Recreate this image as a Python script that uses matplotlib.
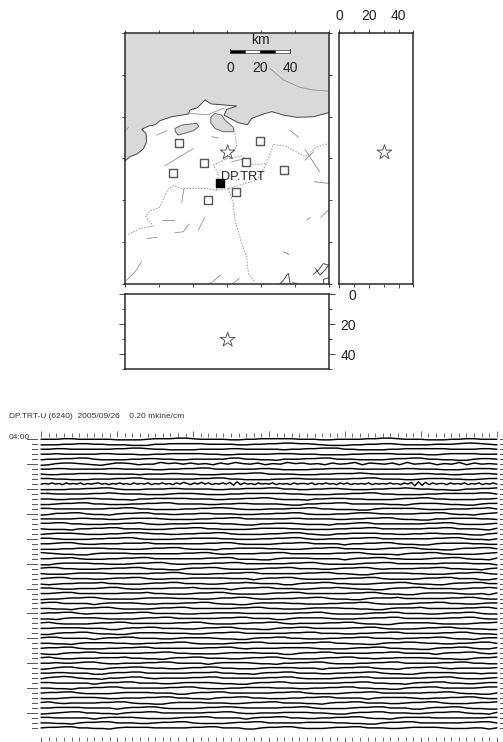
import numpy as np
import matplotlib
matplotlib.use("Agg")
import matplotlib.pyplot as plt
from matplotlib.ticker import MultipleLocator

plt.rcParams['font.family'] = ['Liberation Sans', 'DejaVu Sans']

# map data, km from the upper left corner of the map
coast_x = [0, 3.3, 7.8, 12.2, 14.4, 14, 11.1, 15.6, 20, 23.3, 31.1, 42.2, 43.3, 48.2, 53.3, 57.8, 66.7, 74.4,
           67.8, 66, 75.6, 81.6, 84.4, 92.2, 97.8, 105.6, 114.4, 125.6, 135.6]
coast_y = [85.3, 82.4, 80.7, 77.3, 72.4, 66.9, 64.2, 62, 61.1, 58.4, 55.8, 54, 51.3, 49.8, 44.7, 47.3, 48, 48.7,
           50.9, 54.7, 59.8, 61.1, 56.9, 54, 52.4, 54.7, 56.2, 55.8, 53.1]
lake1_x = [33.3, 37.8, 47.8, 49.1, 45.6, 35.6, 33.6]
lake1_y = [63.6, 61.3, 60.2, 62.4, 65.1, 68, 65.8]
lake2_x = [57.3, 60, 64.4, 66.7, 72.2, 72.7, 65.6, 60, 57.1]
lake2_y = [55.8, 53.6, 54.7, 58, 62.9, 65.8, 65.8, 63.6, 59.8]

faults = [
    ([96.7, 105.6, 116.7, 125.6, 135.6], [23.6, 31.3, 36.2, 38, 38.7]),
    ([26.7, 45.6], [88.4, 76.9]),
    ([21.1, 27.8], [68, 65.1]),
    ([0, 2.2], [65.8, 62.9]),
    ([57.8, 62.2], [69.1, 70]),
    ([71.1, 80], [85.8, 83.6]),
    ([120, 129.6], [77.6, 92.4]),
    ([120, 125.6], [84.7, 79.1]),
    ([126, 135.6], [99.1, 100.2]),
    ([110, 115.6], [64.7, 69.6]),
    ([121.1, 123.3], [124.7, 122.9]),
    ([130.4, 135.6], [122.9, 118]),
    ([24.4, 32.7], [124.9, 124.9]),
    ([33.3, 38.9, 42.7], [133.1, 132.4, 127.3]),
    ([48.9, 53.1], [131.3, 122.9]),
    ([14.9, 21.1], [136.9, 136.2]),
    ([37.8, 39.3], [113.1, 103.6]),
    ([105.6, 109.3], [145.8, 147.6]),
    ([1.1, 6.7, 11.1], [164.7, 159.1, 152.4]),
    ([56.7, 63.8], [166.9, 161.3]),
    ([71.8, 76.2], [166.9, 163.6]),
    ([43, 55, 66], [53.5, 54.5, 50]),
]
borders = [
    ([2.2, 10, 18.9, 13.8, 16.7, 22.9, 28.9, 32.2, 37.8, 54.4, 61.1, 68.9],
     [134.2, 130.2, 128.7, 122.4, 118.4, 116.2, 103.6, 101.8, 103.6, 103.6, 104.7, 103.6]),
    ([68.9, 72.2, 73.3, 77.8, 81.1, 82.2, 86.7], [103.6, 113.8, 125, 140.2, 149.1, 160.2, 166.4]),
    ([61.1, 62.2, 58.9, 66.7, 77.8, 85.6, 94.4, 98.9, 107.8, 120, 127.8, 135.6],
     [104.7, 93.6, 88, 84.2, 82, 88, 86.9, 74.2, 75.6, 82.4, 75.8, 73.6]),
    ([68.9, 87.8, 94.4], [103.6, 98, 86.9]),
    ([73.3, 74.4, 66.7], [66.9, 75.8, 84.2]),
]
shore_bits = [
    ([125.6, 128.9, 132.2, 135.6, 133.3, 130, 127], [160.7, 158, 153.6, 154.7, 158, 161.3, 157]),
    ([103.3, 105.6, 107.8, 108.9, 110], [166.9, 164.7, 161.3, 160.2, 166.9]),
    ([111.8, 114.4], [166.4, 166.9]),
    ([132.2, 132.2, 135.6], [166.9, 164.2, 163.1]),
]

station_x = [36, 52.9, 32, 55.1, 73.8, 80.4, 89.8, 106.2]
station_y = [73.6, 86.9, 93.3, 111.1, 106, 86, 71.9, 91.6]
active_x = 63.1
active_y = 100
active_name = "DP.TRT"
event_x = 68.4
event_y = 79.6
event_depth = 30.5

# waveform, one string per minute, each digit is the reading at that point (5 = rest)
title = "DP.TRT-U (6240)  2005/09/26    0.20 mkine/cm"
start_label = "04:00"
traces = [
    "5556655555444456667765555445566666555445555667765554445566555",
    "4445566554443335566666555544556677665433344556654444555677654",
    "5566555555667765544445555665555545566777554444556666665555665",
    "5565555566555445566666554455555666555444455666655554456666555",
    "4556677544445566554455555775544355566775554444566775544335665",
    "34677654357764558675756475865746586756475684765748567465847565",
    "5566555556655554455667755555566544445566665555556655544456665",
    "5445566665555455566554445566775555444556667655555566554455665",
    "6655444555667755555556677554444556655555566775554456665544566",
    "565756475657465675646575647565746575647586475857465758394756475657465647566574657564757465657465657564758293847566475657465746575",
    "4444556677544455566555544556667755445566544455667655443355667",
    "6655555667655544456665444556666665544445566775544445566666775",
    "5544556655443556666655544556677544435566655444456677554444556",
    "4456677554445566775555445566555543355667755555443566654433566",
    "6655555556677554444556677654445556677554443356666654445556675",
    "3466775443566775544556655544455667754445567765555566775443567",
    "5555566554456666544445566775555556655554455667754433556666554",
    "6677554445566754455566665543355666544435567755555556677544456",
    "5444355667755544456677554444566665544445566775555556677555436",
    "4566654445567765544556677544445567754335566665544556655543356",
    "6654444556677544445566665544455667754455566775555555667754435",
    "5567754455566675555555667754444566775555355667754433566665544",
    "4445566665544456677544435566665544456677555445667754433566775",
    "7654433566665555555667754555566775555556677544435667754444567",
    "5566754445566775555555667744433566665555356677554445667754436",
    "3356666554445667754455566775555556677544445667755555566665553",
    "6775544455667754433566775444456677555445667754555566775544356",
    "5444566665555556677544455667755555566775543356666554445667754",
    "5677555445667754455566666555356677544445566775444456677555335",
    "4345566675544456677555445667655533566775544456677544335667755",
    "6654455567754455566675555356677555445667654433566775555456676",
    "5567755555566675544456677544445667755555566775443356666544536",
    "3445667754444566665554456677544555667754433566675555556677544",
    "6775555356666544555667754433566665544455667754444566775544566",
    "5544356677544445667755555566775544456666554433566675555566775",
    "5667754555566775555445566665555555667754444566775554456677544",
    "4435666654444566775555556677555335666654445566775555556677544",
    "6754444566775555556677544455667754555566775443356666544445667",
    "5566665553356677555445667754433566775555566775444456677554433",
    "3356677544335666655544566775555556677555445566775555566775443",
    "6775555356677555445666654433566775544455667755545566775443566",
    "5544356666554455667754444566775555566775544335667765544556775",
    "5667754445566775555555667754555566665444456677554433566775446",
    "4335667755555566775544445666655533566775555566775555356677545",
    "6754455566675544356677555445667754444566775545566665544335667",
    "5565567754455566775555356666544355667754445566775555566775544",
    "3467754435667765544566775544456666555355667754435667754555556",
    "5566555335667755555566675544356677555445566775443356666555455",
    "4678754435567754555566775555556677544445667755555556677544456",
    "6655555356677555445666654433566775555555667755443566775544566",
    "5544355667755555566775444556666555445566775544335667755555677",
    "5667754444566665553356677555555667754444566775555556677544335",
    "4445666654455566775544356677554445566775555356666544556677544",
    "6754555566775443356666555445667755544356677555445667754445667",
    "5566665555356677544445667765555566775444456677555335667754433",
    "3456775544356677555555667754455566665543356677555445667754436",
    "6655555356666544445667755553566775544556677544356666555555566",
    "5544356677555445667754444566775555566665544335667755555566775",
    "5667755443566665555566775553356677544456677555445666654445535",
]

fig = plt.figure(figsize=(5.03, 7.42), dpi=100)
W = 503.0
H = 742.0


def px_axes(left, top, right, bottom):
    return fig.add_axes([left / W, 1 - bottom / H, (right - left) / W, (bottom - top) / H])


dark = "#2a2a2a"
sea = "#d9d9d9"
gray = "#8f8f8f"
fs = 10

# map
ax = px_axes(125, 33, 328.5, 283.5)
ax.set_xlim(0, 135.6)
ax.set_ylim(166.9, 0)
ax.fill(coast_x + [135.6, 0], coast_y + [0, 0], color=sea, lw=0)
ax.plot(coast_x, coast_y, color="#444444", lw=0.7)
ax.fill(lake1_x, lake1_y, facecolor=sea, edgecolor="#555555", lw=0.6)
ax.fill(lake2_x, lake2_y, facecolor=sea, edgecolor="#555555", lw=0.6)
for fx, fy in faults:
    ax.plot(fx, fy, color=gray, lw=0.6)
for bx, by in borders:
    ax.plot(bx, by, color="#9a9a9a", lw=0.7, ls=(0, (1.6, 1.4)))
for sx, sy in shore_bits:
    ax.plot(sx, sy, color="#333333", lw=0.6)
ax.scatter(station_x, station_y, marker="s", s=30, facecolor="white", edgecolor="#555555", linewidth=1.0, zorder=4)
ax.scatter([active_x], [active_y], marker="s", s=32, color="black", zorder=5)
ax.scatter([event_x], [event_y], marker="*", s=125, facecolor="none", edgecolor="#444444", linewidth=0.6, zorder=6)
ax.text(active_x + 1, active_y - 4.2, active_name, fontsize=9.2, color="#222222", va="center", zorder=7)
# scale bar
for k in range(4):
    ax.fill([70.2 + 10 * k, 80.2 + 10 * k, 80.2 + 10 * k, 70.2 + 10 * k], [11.4, 11.4, 13.6, 13.6],
            facecolor="black" if k % 2 == 0 else "white", edgecolor="#333333", lw=0.5)
ax.plot([70.2, 70.2], [10.6, 13.6], color="#333333", lw=0.6)
ax.plot([110.2, 110.2], [10.6, 13.6], color="#333333", lw=0.6)
for v in [0, 20, 40]:
    ax.text(70.2 + v, 23, str(v), fontsize=fs, ha="center", va="center", color="#222222")
ax.text(90.2, 4.6, "km", fontsize=fs, ha="center", va="center", color="#222222")
ax.set_xticks(np.linspace(0, 135.6, 7))
ax.set_yticks(np.linspace(0, 166.9, 7))
ax.tick_params(top=True, right=True, bottom=True, left=True, labelbottom=False, labelleft=False,
               length=2, width=0.6, color=dark, direction="out")

# east side depth panel
ax2 = px_axes(339, 33, 413.5, 283.5)
ax2.set_xlim(0, 50)
ax2.set_ylim(166.9, 0)
ax2.scatter([event_depth], [event_y], marker="*", s=125, facecolor="none", edgecolor="#444444", linewidth=0.6)
ax2.set_xticks([0, 20, 40])
ax2.xaxis.set_minor_locator(MultipleLocator(10))
ax2.set_yticks([])
ax2.tick_params(axis="x", which="major", top=True, bottom=True, labeltop=True, labelbottom=False,
                length=3, width=0.6, color=dark, labelsize=fs, pad=4, labelcolor="#222222")
ax2.tick_params(axis="x", which="minor", top=True, bottom=True, length=2, width=0.6, color=dark)

# south side depth panel
ax3 = px_axes(125, 294, 328.5, 369)
ax3.set_xlim(0, 135.6)
ax3.set_ylim(50, 0)
ax3.scatter([event_x], [event_depth], marker="*", s=125, facecolor="none", edgecolor="#444444", linewidth=0.6)
ax3.set_xticks([])
ax3.set_yticks([0, 20, 40])
ax3.yaxis.set_minor_locator(MultipleLocator(10))
ax3.tick_params(axis="y", which="major", left=True, right=True, labelleft=False, labelright=True,
                length=4, width=0.6, color=dark, labelsize=fs, pad=15.8, labelcolor="#222222")
ax3.tick_params(axis="y", which="minor", left=True, right=True, length=2, width=0.6, color=dark)
for lab in ax3.get_yticklabels():
    lab.set_ha("right")

for a in [ax, ax2, ax3]:
    for s in a.spines.values():
        s.set_linewidth(1.1)
        s.set_color(dark)

# waveform panel, x in seconds along the row and y in rows
ax4 = px_axes(0, 436.5, 503, 737)
sec = 7.59
x0 = 41.3
ax4.set_xlim(-x0 / sec, (503 - x0) / sec)
ax4.set_ylim(59.83, -0.56)
ax4.patch.set_visible(False)
for s in ax4.spines.values():
    s.set_visible(False)
row_scale = 0.115
for i, row in enumerate(traces):
    vals = np.array([int(c) for c in row], dtype=float)
    t = np.linspace(0, 60, len(vals))
    ax4.plot(t, i - (vals - 5) * row_scale, color="black", lw=1.05)
    long_dash = i % 5 == 0
    ax4.plot([-1.92 if long_dash else -1.25, -0.6], [i, i], color="#555555", lw=0.7)
    ax4.plot([60.42, 60.9], [i, i], color="#555555", lw=0.7)
ax4.set_xticks(np.arange(0, 61, 10))
ax4.set_xticks(np.arange(0, 61, 1), minor=True)
ax4.set_yticks([])
ax4.tick_params(axis="x", which="major", top=True, bottom=True, labelbottom=False, length=4.3, width=0.5, color="#333333")
ax4.tick_params(axis="x", which="minor", top=True, bottom=True, length=2.6, width=0.5, color="#333333")
fig.text(9 / W, 1 - 417 / H, title, fontsize=6.0, color="#333333", va="center")
fig.text(9 / W, 1 - 437.5 / H, start_label, fontsize=6.0, color="#333333", va="center")

fig.savefig("out.png", dpi=100)
